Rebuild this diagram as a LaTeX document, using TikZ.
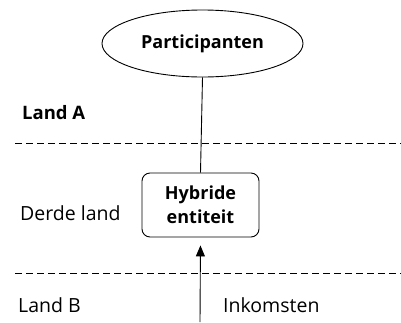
\documentclass[tikz,border=0pt]{standalone}
\usepackage{fontspec}
\setmainfont{Open Sans}
\usetikzlibrary{shapes.geometric,arrows.meta}
\begin{document}
\begin{tikzpicture}[x=1pt,y=-1pt,
  lbl/.style={font=\fontsize{19.5}{22}\selectfont, anchor=west, inner sep=0pt},
  sep/.style={dashed, dash pattern=on 7pt off 4pt, line width=0.9pt},
  conn/.style={line width=0.9pt}]
\useasboundingbox (0,0) rectangle (401,322);
\node[ellipse, draw, line width=0.9pt, minimum width=201pt, minimum height=67pt, inner sep=0pt,
  font=\bfseries\fontsize{18}{20}\selectfont] (part) at (202.5,43.5) {Participanten};
\node[draw, rounded corners=8pt, line width=0.9pt, minimum width=117pt, minimum height=64pt,
  align=center, inner sep=0pt, font=\bfseries\fontsize{18}{24}\selectfont] (hyb) at (200.5,205) {Hybride\\entiteit};
\node[lbl, font=\bfseries\fontsize{18.5}{22}\selectfont] (la) at (22,113) {Land A};
\node[lbl] (dl) at (20,213) {Derde land};
\node[lbl] (lb) at (18,305) {Land B};
\node[lbl] (ink) at (223,305) {Inkomsten};
\coordinate (d1a) at (15,143);
\coordinate (d1b) at (401,143);
\coordinate (d2a) at (15,273);
\coordinate (d2b) at (401,273);
\coordinate (src) at (200,322);
\draw[sep] (d1a) -- (d1b);
\draw[sep] (d2a) -- (d2b);
\draw[conn] (part.south) -- (hyb.north);
\draw[conn, shorten >=8pt, -{Triangle[length=11pt,width=9pt]}] (src) -- (hyb.south);
\end{tikzpicture}
\end{document}
